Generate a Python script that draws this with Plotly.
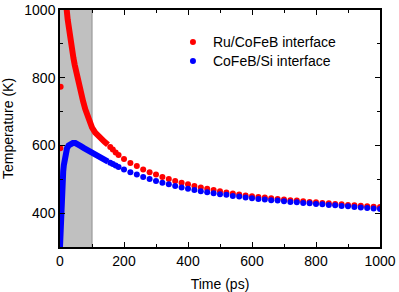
import plotly.graph_objects as go

# ---- data ----
# dense (continuous-looking) part of each series
red_dense_t = [4, 10, 15, 18, 21, 24, 27, 30, 34, 38, 42, 46, 50, 54, 60, 66, 72, 79, 86, 93, 100, 110, 120, 130, 140, 150]
red_dense_T = [1250, 1130, 1050, 1025, 1000, 972, 947, 925, 900, 878, 858, 838, 819, 800, 776, 753, 731, 707, 686, 668, 653, 638, 627, 618, 610, 602]

blue_dense_t = [0, 1, 2, 3, 4, 6, 8, 10, 12, 15, 18, 22, 27, 33, 40, 48, 56, 65, 75, 85, 100, 115, 130, 150]
blue_dense_T = [300, 340, 375, 405, 430, 470, 500, 523, 542, 565, 580, 592, 600, 605, 607, 607, 604, 598, 592, 586, 577, 570, 562, 552]

# isolated early points of the Ru/CoFeB series
red_early_t = [1, 2]
red_early_T = [592, 773]

# sparse part
sparse_t = [157, 165, 174, 183, 200, 220, 240, 260, 280, 300, 320, 340, 360, 380, 400,
            420, 440, 460, 480, 500, 520, 540, 560, 580, 600, 620, 640, 660, 680, 700,
            720, 740, 760, 780, 800, 820, 840, 860, 880, 900, 920, 940, 960, 980, 1000]
red_sparse_T = [595, 588, 579, 572, 560, 548, 539, 529, 521, 514, 507, 501, 495, 490, 485,
                480, 476, 472, 468, 465, 461, 458, 455, 452, 450, 448, 446, 444, 442, 440,
                438, 437, 435, 433, 432, 430, 429, 427, 426, 424, 423, 422, 420, 419, 418]
blue_sparse_T = [549, 545, 541, 536, 529, 521, 514, 507, 501, 495, 490, 485, 480, 476, 472,
                 468, 465, 462, 459, 456, 454, 451, 449, 446, 444, 442, 440, 438, 437, 435,
                 433, 432, 430, 429, 427, 426, 424, 423, 421, 420, 418, 417, 415, 414, 412]

pulse_window = [0, 100]
x_ticks = [0, 200, 400, 600, 800, 1000]
y_ticks = [400, 600, 800, 1000]

RED = "#ff0000"
BLUE = "#0000ff"
MS = 6

fig = go.Figure()

fig.add_trace(go.Scatter(x=red_dense_t, y=red_dense_T, mode="lines",
                         line=dict(color=RED, width=MS), showlegend=False, hoverinfo="skip"))
fig.add_trace(go.Scatter(x=red_early_t, y=red_early_T, mode="markers",
                         marker=dict(color=RED, size=MS), showlegend=False))
fig.add_trace(go.Scatter(x=sparse_t, y=red_sparse_T, mode="markers",
                         marker=dict(color=RED, size=MS), name="Ru/CoFeB interface",
                         legend="legend"))
fig.add_trace(go.Scatter(x=blue_dense_t, y=blue_dense_T, mode="lines",
                         line=dict(color=BLUE, width=MS), showlegend=False, hoverinfo="skip"))
fig.add_trace(go.Scatter(x=sparse_t, y=blue_sparse_T, mode="markers",
                         marker=dict(color=BLUE, size=MS), name="CoFeB/Si interface",
                         legend="legend2"))

fig.add_shape(type="rect", xref="x", yref="y", x0=pulse_window[0], x1=pulse_window[1],
              y0=300, y1=1000, fillcolor="#c0c0c0", line=dict(width=0), layer="below")
fig.add_shape(type="line", xref="x", yref="y", x0=pulse_window[1], x1=pulse_window[1],
              y0=300, y1=1000, line=dict(color="#999999", width=1.2), layer="below")

font = "Liberation Sans, Arial, sans-serif"
FS = 14
axis_common = dict(showline=True, linecolor="black", linewidth=1.5, mirror="allticks",
                   ticks="inside", ticklen=5, tickwidth=1.2, tickcolor="black",
                   showgrid=False, zeroline=False, automargin=False,
                   ticklabeloverflow="allow",
                   tickfont=dict(family=font, size=FS, color="black"))

fig.update_xaxes(range=[0, 1000], tickvals=x_ticks,
                 minor=dict(dtick=100, ticks="inside", ticklen=3, tickwidth=1.2, tickcolor="black", showgrid=False),
                 title=dict(text="Time (ps)", font=dict(family=font, size=FS, color="black"), standoff=12),
                 **axis_common)
fig.update_yaxes(range=[300, 1000], tickvals=y_ticks,
                 minor=dict(dtick=100, ticks="inside", ticklen=3, tickwidth=1.2, tickcolor="black", showgrid=False),
                 title=dict(text="Temperature (K)", font=dict(family=font, size=FS, color="black"), standoff=12),
                 **axis_common)

legend_common = dict(xanchor="left", yanchor="top", bgcolor="rgba(0,0,0,0)",
                     font=dict(family=font, size=FS, color="black"), itemsizing="trace")

fig.update_layout(
    width=399, height=292,
    margin=dict(l=60, r=19, t=10, b=45),
    paper_bgcolor="white", plot_bgcolor="white",
    font=dict(family=font, size=FS, color="black"),
    legend=dict(x=0.353, y=0.931, **legend_common),
    legend2=dict(x=0.353, y=0.851, **legend_common),
)

# remove the default page margin so the figure fills the window exactly
fig.write_html("out.html", config={"displayModeBar": False},
               post_script="document.body.style.margin='0';")
